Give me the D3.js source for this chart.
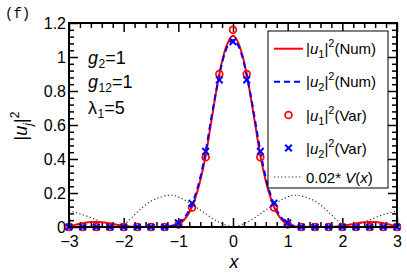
<!DOCTYPE html>
<html><head><meta charset="utf-8">
<script src="https://cdn.jsdelivr.net/npm/d3@7"></script>
<style>
body{margin:0;background:#fff}
text{fill:#000}
</style>
</head><body>
<svg id="c" width="407" height="273" font-family="Liberation Sans, Arial, Helvetica, sans-serif"></svg>
<script>
// ---- data ----
const xNum = [-3.0,-2.9,-2.8,-2.7,-2.6,-2.5,-2.4,-2.3,-2.2,-2.1,-2.0,-1.9,-1.8,-1.7,-1.6,-1.5,-1.4,-1.3,-1.2,-1.1,-1.0,-0.9,-0.8,-0.7,-0.6,-0.5,-0.4,-0.3,-0.2,-0.1,
  0.0,0.1,0.2,0.3,0.4,0.5,0.6,0.7,0.8,0.9,1.0,1.1,1.2,1.3,1.4,1.5,1.6,1.7,1.8,1.9,2.0,2.1,2.2,2.3,2.4,2.5,2.6,2.7,2.8,2.9,3.0];
const u1Num = [0.004,0.011,0.019,0.025,0.029,0.03,0.028,0.024,0.018,0.012,0.007,0.003,0.001,0,0,0,0,0.001,0.002,0.006,0.016,0.04,0.085,0.16,0.27,0.42,0.615,0.81,0.975,1.08,
  1.125,1.08,0.975,0.81,0.615,0.42,0.27,0.16,0.085,0.04,0.016,0.006,0.002,0.001,0,0,0,0,0.001,0.003,0.007,0.012,0.018,0.024,0.028,0.03,0.029,0.025,0.019,0.011,0.004];
const u2Num = [0,0,0,0,0,0,0,0,0,0,0,0,0,0,0,0,0,0.001,0.003,0.009,0.022,0.05,0.1,0.178,0.29,0.445,0.635,0.815,0.965,1.065,
  1.10,1.065,0.965,0.815,0.635,0.445,0.29,0.178,0.1,0.05,0.022,0.009,0.003,0.001,0,0,0,0,0,0,0,0,0,0,0,0,0,0,0,0,0];
const vScaled = [0.095,0.087,0.077,0.067,0.055,0.042,0.03,0.018,0.008,0.002,0.014,0.04,0.072,0.103,0.13,0.152,0.168,0.178,0.186,0.187,0.177,0.162,0.142,0.122,0.1,0.078,0.055,0.035,0.02,0.008,
  0,0.008,0.02,0.035,0.055,0.078,0.1,0.122,0.142,0.162,0.177,0.187,0.186,0.178,0.168,0.152,0.13,0.103,0.072,0.04,0.014,0.002,0.008,0.018,0.03,0.042,0.055,0.067,0.077,0.087,0.095];
const xVar = [-3,-2.75,-2.5,-2.25,-2,-1.75,-1.5,-1.25,-1,-0.75,-0.5,-0.25,0,0.25,0.5,0.75,1,1.25,1.5,1.75,2,2.25,2.5,2.75,3];
const u1Var = [0,0,0,0,0,0,0,0,0.015,0.115,0.41,0.9,1.16,0.9,0.41,0.115,0.015,0,0,0,0,0,0,0,0];
const u2Var = [0,0,0,0,0,0,0,0,0.025,0.14,0.445,0.865,1.09,0.865,0.445,0.14,0.025,0,0,0,0,0,0,0,0];
const xTicks = [-3,-2,-1,0,1,2,3];
const xTickLabels = ["\u22123","\u22122","\u22121","0","1","2","3"];
const yTicks = [0,0.2,0.4,0.6,0.8,1,1.2];
const yTickLabels = ["0","0.2","0.4","0.6","0.8","1","1.2"];
const xMinor = [-2.8,-2.6,-2.4,-2.2,-1.8,-1.6,-1.4,-1.2,-0.8,-0.6,-0.4,-0.2,0.2,0.4,0.6,0.8,1.2,1.4,1.6,1.8,2.2,2.4,2.6,2.8];
const yMinor = [0.04,0.08,0.12,0.16,0.24,0.28,0.32,0.36,0.44,0.48,0.52,0.56,0.64,0.68,0.72,0.76,0.84,0.88,0.92,0.96,1.04,1.08,1.12,1.16];

// ---- layout ----
const L = 69, R = 397, T = 23, B = 227;
const svg = d3.select("#c");
const x = d3.scaleLinear().domain([-3,3]).range([L,R]);
const y = d3.scaleLinear().domain([0,1.2]).range([B,T]);

function styleAxis(g){
  g.attr("font-family","Liberation Sans, Arial, sans-serif").attr("font-size",16);
  g.select(".domain").remove();
  g.selectAll("line").attr("stroke","#000").attr("stroke-width",1.5);
  g.selectAll("text").attr("fill","#000");
}

// minor ticks
svg.append("g").attr("transform",`translate(0,${B})`).call(d3.axisBottom(x).tickValues(xMinor).tickSize(-5).tickFormat("")).call(styleAxis);
svg.append("g").attr("transform",`translate(0,${T})`).call(d3.axisTop(x).tickValues(xMinor).tickSize(-5).tickFormat("")).call(styleAxis);
svg.append("g").attr("transform",`translate(${L},0)`).call(d3.axisLeft(y).tickValues(yMinor).tickSize(-5).tickFormat("")).call(styleAxis);
svg.append("g").attr("transform",`translate(${R},0)`).call(d3.axisRight(y).tickValues(yMinor).tickSize(-5).tickFormat("")).call(styleAxis);
// major ticks
svg.append("g").attr("transform",`translate(0,${B})`).call(d3.axisBottom(x).tickValues(xTicks).tickSize(-9).tickPadding(9).tickFormat((d,i)=>xTickLabels[i])).call(styleAxis);
svg.append("g").attr("transform",`translate(0,${T})`).call(d3.axisTop(x).tickValues(xTicks).tickSize(-9).tickFormat("")).call(styleAxis);
svg.append("g").attr("transform",`translate(${L},0)`).call(d3.axisLeft(y).tickValues(yTicks).tickSize(-9).tickPadding(3).tickFormat((d,i)=>yTickLabels[i])).call(styleAxis);
svg.append("g").attr("transform",`translate(${R},0)`).call(d3.axisRight(y).tickValues(yTicks).tickSize(-9).tickFormat("")).call(styleAxis);

// lines
const line = (ys)=>d3.line().x((d,i)=>x(xNum[i])).y(d=>y(d)).curve(d3.curveMonotoneX)(ys);
svg.append("path").attr("d",line(vScaled)).attr("fill","none").attr("stroke","#333").attr("stroke-width",1.2).attr("stroke-dasharray","1.2,2.4");
svg.append("path").attr("d",line(u1Num)).attr("fill","none").attr("stroke","#ff0000").attr("stroke-width",2);
svg.append("path").attr("d",line(u2Num)).attr("fill","none").attr("stroke","#0000ff").attr("stroke-width",2).attr("stroke-dasharray","6,4");

// markers
svg.append("g").selectAll("circle").data(u1Var).join("circle")
  .attr("cx",(d,i)=>x(xVar[i])).attr("cy",d=>y(d)).attr("r",3.4)
  .attr("fill","none").attr("stroke","#ff0000").attr("stroke-width",1.7);
const cross = (cx,cy,s)=>`M${cx-s},${cy-s}L${cx+s},${cy+s}M${cx-s},${cy+s}L${cx+s},${cy-s}`;
svg.append("g").selectAll("path").data(u2Var).join("path")
  .attr("d",(d,i)=>cross(x(xVar[i]),y(d),3.3))
  .attr("fill","none").attr("stroke","#0000ff").attr("stroke-width",2);

// box
svg.append("rect").attr("x",L).attr("y",T).attr("width",R-L).attr("height",B-T)
  .attr("fill","none").attr("stroke","#000").attr("stroke-width",2);

// legend
const lg = svg.append("g");
lg.append("rect").attr("x",268).attr("y",31).attr("width",120).attr("height",157)
  .attr("fill","#fff").attr("stroke","#000").attr("stroke-width",1);
const rows = [
  {yy:48.7, sub:"1", tail:"(Num)", kind:"red"},
  {yy:81.7, sub:"2", tail:"(Num)", kind:"blue"},
  {yy:115, sub:"1", tail:"(Var)", kind:"circ"},
  {yy:148, sub:"2", tail:"(Var)", kind:"x"},
  {yy:177, kind:"v"}
];
rows.forEach(r=>{
  if(r.kind==="red") lg.append("line").attr("x1",274).attr("x2",303).attr("y1",r.yy).attr("y2",r.yy).attr("stroke","#ff0000").attr("stroke-width",2);
  if(r.kind==="blue") lg.append("line").attr("x1",274).attr("x2",303).attr("y1",r.yy).attr("y2",r.yy).attr("stroke","#0000ff").attr("stroke-width",2).attr("stroke-dasharray","6,4");
  if(r.kind==="circ") lg.append("circle").attr("cx",288.5).attr("cy",r.yy).attr("r",3.4).attr("fill","none").attr("stroke","#ff0000").attr("stroke-width",1.7);
  if(r.kind==="x") lg.append("path").attr("d",cross(288.5,r.yy,3.3)).attr("stroke","#0000ff").attr("stroke-width",2);
  if(r.kind==="v") lg.append("line").attr("x1",274).attr("x2",303).attr("y1",r.yy).attr("y2",r.yy).attr("stroke","#333").attr("stroke-width",1.2).attr("stroke-dasharray","1.2,2.4");
  const t = lg.append("text").attr("x",306).attr("y",r.yy+5.5).attr("font-size",15);
  if(r.kind==="v"){
    t.append("tspan").text("0.02* ");
    t.append("tspan").attr("font-style","italic").text("V");
    t.append("tspan").text("(");
    t.append("tspan").attr("font-style","italic").text("x");
    t.append("tspan").text(")");
  } else {
    t.append("tspan").text("|");
    t.append("tspan").attr("font-style","italic").text("u");
    t.append("tspan").attr("font-size",11).attr("dy",4).text(r.sub);
    t.append("tspan").attr("dy",-4).text("|");
    t.append("tspan").attr("font-size",11).attr("dy",-7).text("2");
    t.append("tspan").attr("dy",7).text(r.tail);
  }
});

// annotations
const ann = [
  {sym:"g", it:true, sub:"2", val:"=1", yy:64},
  {sym:"g", it:true, sub:"12", val:"=1", yy:88},
  {sym:"\u03bb", it:false, sub:"1", val:"=5", yy:114}
];
ann.forEach(a=>{
  const t = svg.append("text").attr("x",88).attr("y",a.yy).attr("font-size",18);
  t.append("tspan").attr("font-style",a.it?"italic":"normal").text(a.sym);
  t.append("tspan").attr("font-size",12).attr("dy",4).attr("dx",0.5).text(a.sub);
  t.append("tspan").attr("dy",-4).text(a.val);
});

// axis labels
svg.append("text").attr("x",234).attr("y",268).attr("text-anchor","middle").attr("font-size",18).attr("font-style","italic").text("x");
const yl = svg.append("text").attr("transform","translate(27,126) rotate(-90)").attr("text-anchor","middle").attr("font-size",18);
yl.append("tspan").text("|");
yl.append("tspan").attr("font-style","italic").text("u");
yl.append("tspan").attr("font-size",12).attr("font-style","italic").attr("dy",5).text("j");
yl.append("tspan").attr("dy",-5).text("|");
yl.append("tspan").attr("font-size",12).attr("dy",-8).text("2");

svg.append("text").attr("x",5).attr("y",18).attr("font-size",14).attr("font-family","Liberation Mono, Courier New, monospace").text("(f)");
</script>
</body></html>
